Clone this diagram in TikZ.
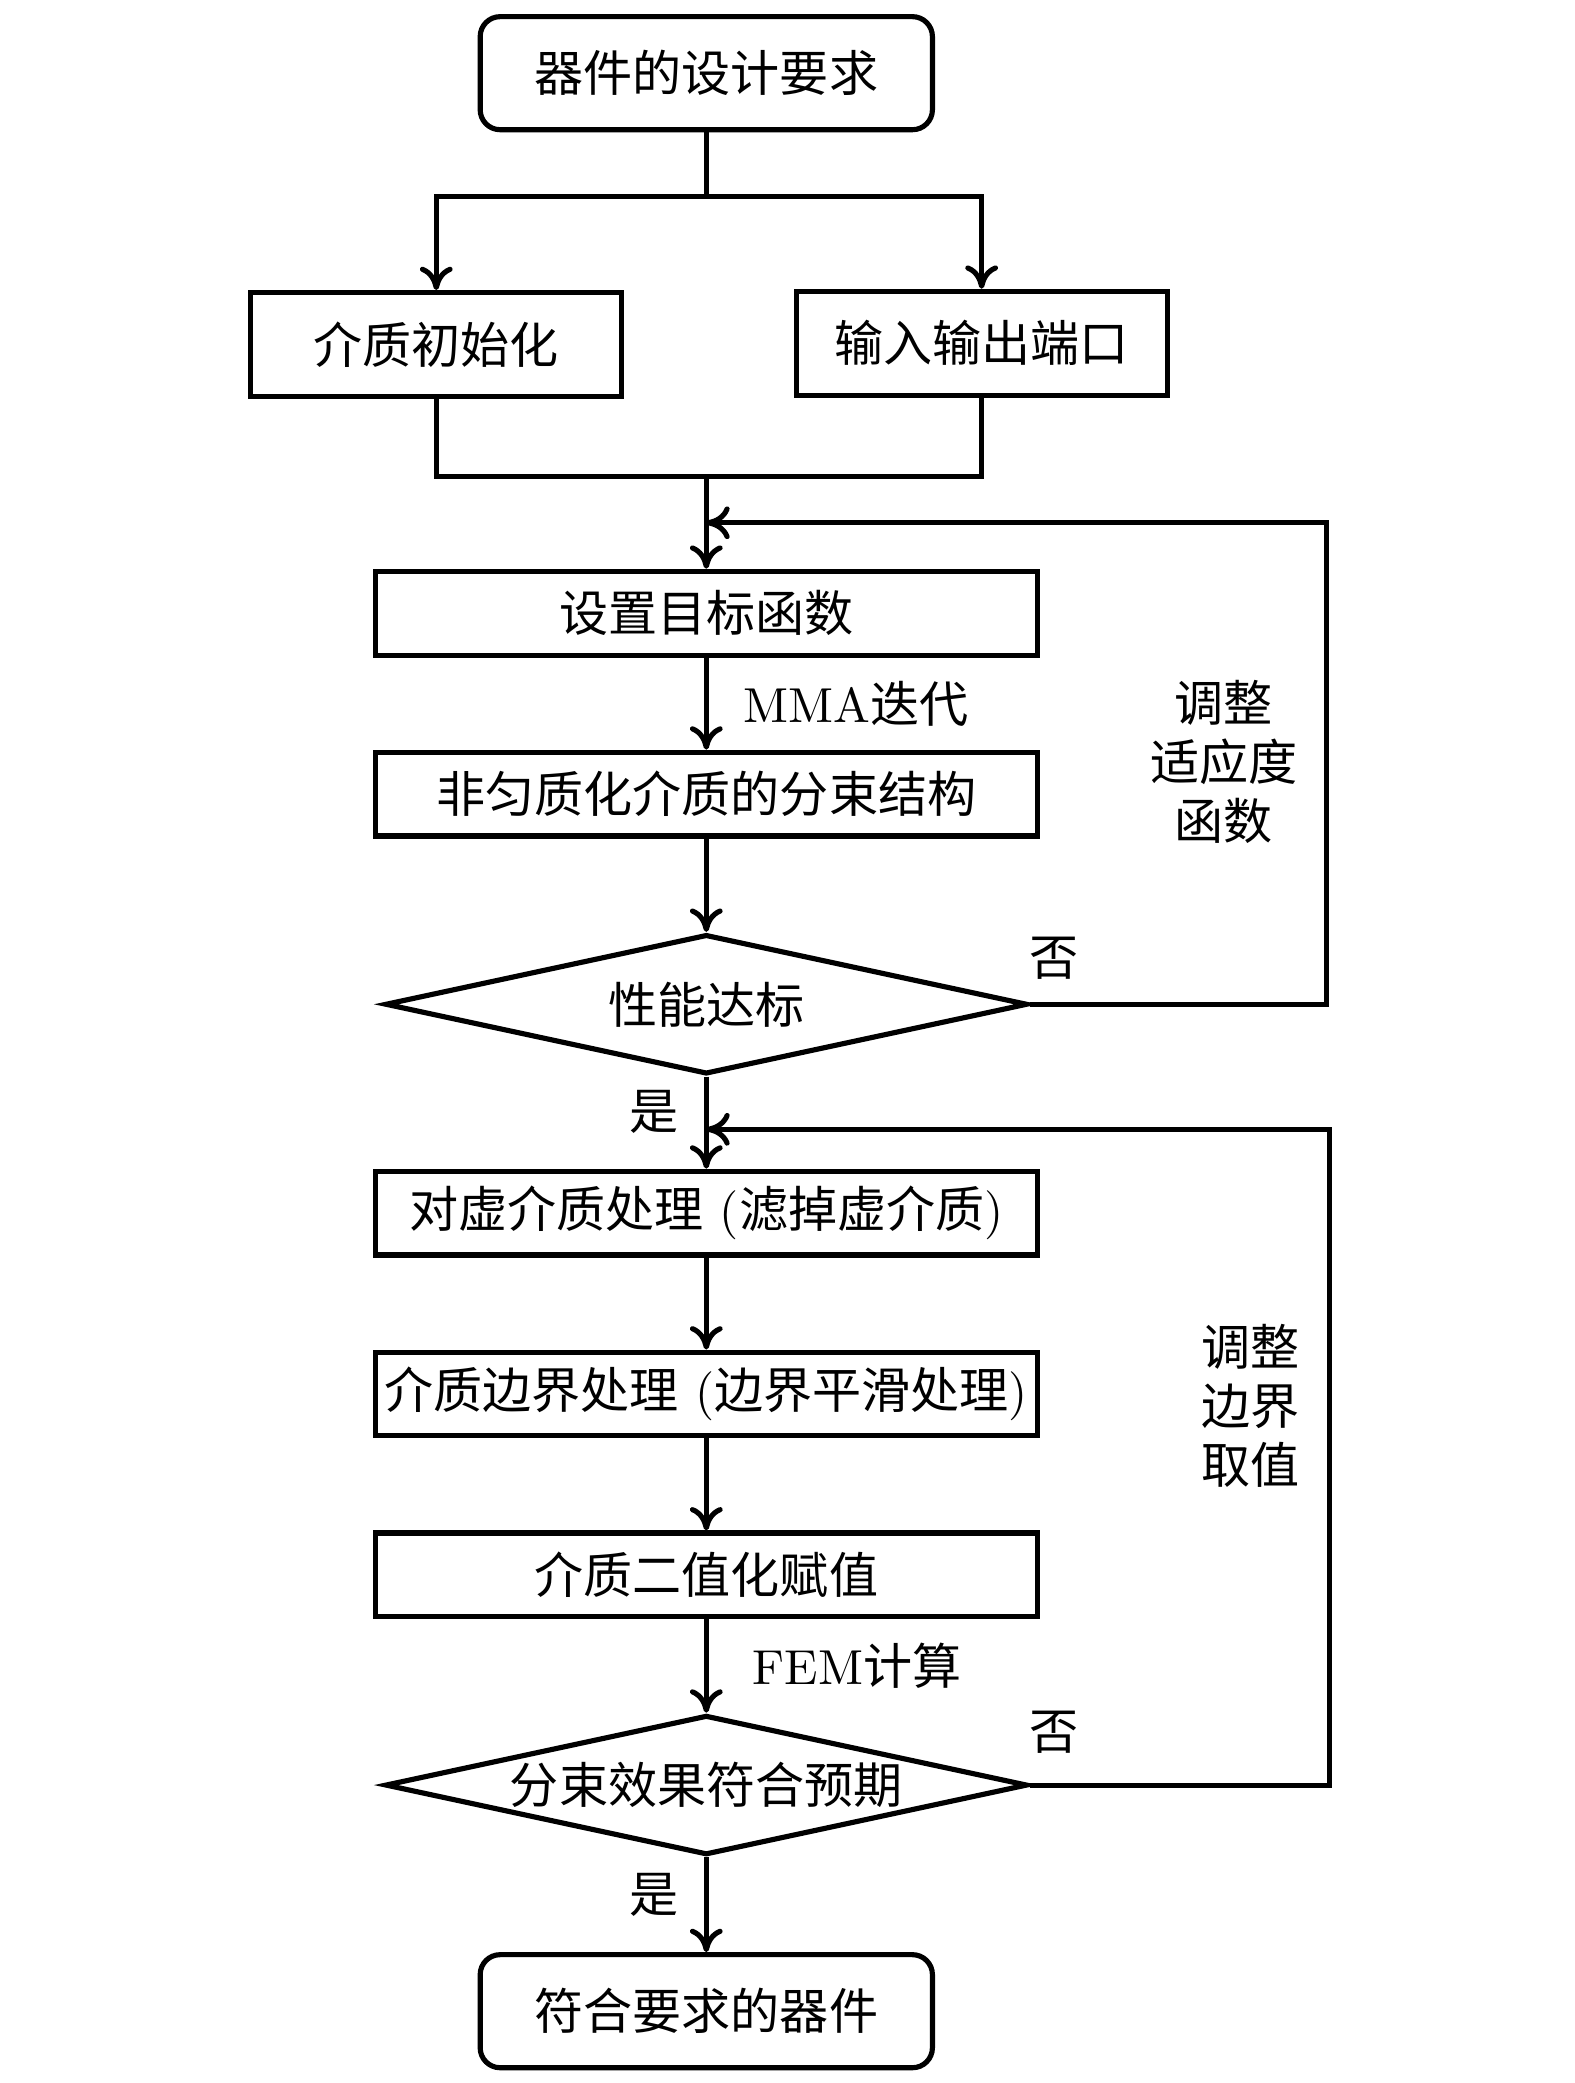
\documentclass[tikz,border=0pt]{standalone}
\usepackage{fontspec}
\newfontfamily\cjk{Noto Sans CJK SC}
\newcommand{\zh}[1]{{\cjk #1}}
\usetikzlibrary{arrows.meta,shapes.geometric,positioning}

\begin{document}
\begin{tikzpicture}[>={To[length=5pt,width=7pt]},line width=1.1pt,
                    node distance=1.36cm,font=\fontsize{10.5pt}{12.6pt}\selectfont]

  \tikzstyle{box}=[rectangle,draw,minimum width=4.98cm,minimum height=0.63cm,inner sep=0pt]
  \tikzstyle{term}=[box,rounded corners=0.15cm,minimum width=3.4cm,minimum height=0.85cm]
  \tikzstyle{half}=[box,minimum width=2.79cm,minimum height=0.78cm]
  \tikzstyle{test}=[diamond,draw,aspect=4.6,minimum width=4.83cm,minimum height=1.05cm,inner sep=0pt]
  \tikzstyle{note}=[inner sep=0pt,align=center]

  \useasboundingbox (0,0) rectangle (11.84,-15.66);

  \node[term] (req)  at (5.31,-0.55) {\zh{器件的设计要求}};
  \node[half] (init) at (3.28,-2.59) {\zh{介质初始化}};
  \node[half] (port) at (7.38,-2.58) {\zh{输入输出端口}};

  \node[box]  (goal)  at (5.31,-4.61)  {\zh{设置目标函数}};
  \node[box]  (split) [below of=goal]  {\zh{非匀质化介质的分束结构}};
  \node[test] (perf)  [below of=split,node distance=1.58cm] {\zh{性能达标}};
  \node[box]  (virt)  [below of=perf,node distance=1.57cm]  {\zh{对虚介质处理} (\zh{滤掉虚介质})};
  \node[box]  (bound) [below of=virt]  {\zh{介质边界处理} (\zh{边界平滑处理})};
  \node[box]  (bin)   [below of=bound] {\zh{介质二值化赋值}};
  \node[test] (match) [below of=bin,node distance=1.58cm]   {\zh{分束效果符合预期}};
  \node[term] (done)  [below of=match,node distance=1.70cm] {\zh{符合要求的器件}};

  \node[note] (fit)  at (9.20,-5.73)  {\zh{调整}\\\zh{适应度}\\\zh{函数}};
  \node[note] (edge) at (9.40,-10.57) {\zh{调整}\\\zh{边界}\\\zh{取值}};

  \coordinate (fork)  at (5.31,-1.48);
  \coordinate (join)  at (5.31,-3.58);
  \coordinate (back1) at (5.31,-3.93);
  \coordinate (back2) at (5.31,-8.49);

  % start: split into the two set-up steps
  \draw (req) -- (fork);
  \draw[->] (fork) -| (init);
  \draw[->] (fork) -| (port);
  \draw (init) |- (join);
  \draw (join) -| (port);
  \draw[->] (join) -- (goal);

  % optimisation loop
  \draw[->] (goal) -- node[note,right,xshift=0.26cm] {MMA\zh{迭代}} (split);
  \draw[->] (split) -- (perf);
  \draw[->] (perf.east) -- node[note,pos=0.08,above=0.17cm] {\zh{否}} ++(2.23,0) |- (back1);
  \draw[->] (perf) -- node[note,pos=0.38,left,xshift=-0.19cm] {\zh{是}} (virt);

  % post-processing loop
  \draw[->] (virt) -- (bound);
  \draw[->] (bound) -- (bin);
  \draw[->] (bin) -- node[note,right,xshift=0.33cm] {FEM\zh{计算}} (match);
  \draw[->] (match.east) -- node[note,pos=0.08,above=0.22cm] {\zh{否}} ++(2.25,0) |- (back2);
  \draw[->] (match) -- node[note,pos=0.4,left,xshift=-0.19cm] {\zh{是}} (done);
\end{tikzpicture}
\end{document}
